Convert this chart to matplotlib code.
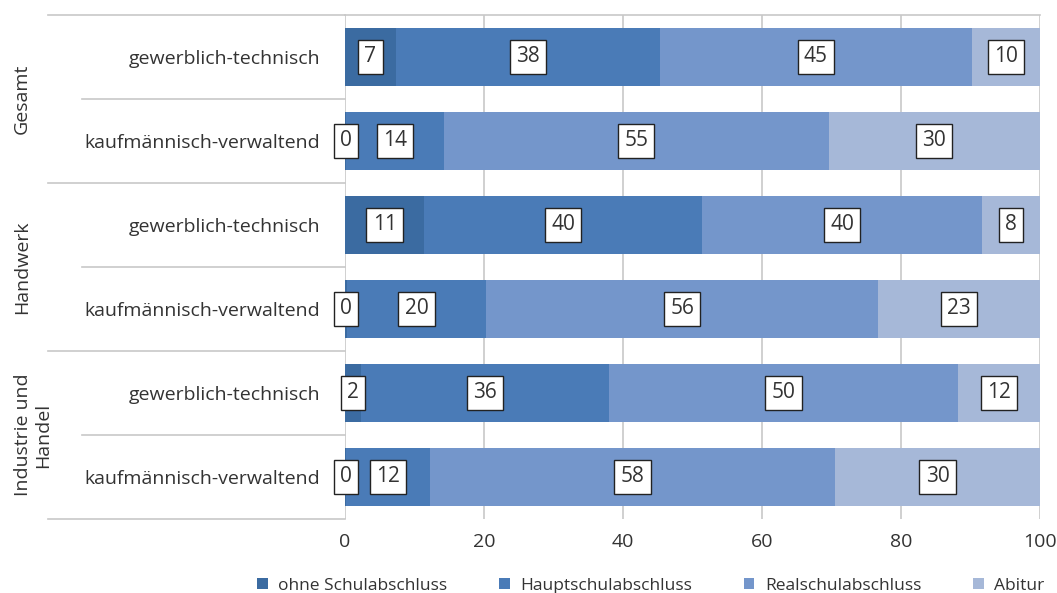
import matplotlib.pyplot as plt
from matplotlib.transforms import blended_transform_factory

plt.rcParams["font.family"] = ["Open Sans", "DejaVu Sans"]

groups = ["Gesamt", "Handwerk", "Industrie und\nHandel"]
categories = [
    "gewerblich-technisch", "kaufmännisch-verwaltend",
    "gewerblich-technisch", "kaufmännisch-verwaltend",
    "gewerblich-technisch", "kaufmännisch-verwaltend",
]
series = ["ohne Schulabschluss", "Hauptschulabschluss", "Realschulabschluss", "Abitur"]
ohne = [7.3, 0.2, 11.4, 0.3, 2.3, 0.2]
haupt = [38.0, 14.0, 40.0, 20.0, 35.7, 12.0]
real = [44.9, 55.4, 40.3, 56.4, 50.2, 58.3]
abitur = [9.8, 30.4, 8.3, 23.3, 11.8, 29.5]
colors = ["#3b6ba1", "#4a7bb7", "#7496cb", "#a6b8d8"]

W, H = 1057, 593
fig = plt.figure(figsize=(W / 100, H / 100), dpi=100)
ax = fig.add_axes([345 / W, 1 - 519 / H, 695 / W, 504 / H])

y = [i + 0.5 for i in range(len(categories))]
left = [0.0] * len(categories)
for name, vals, c in zip(series, [ohne, haupt, real, abitur], colors):
    ax.barh(y, vals, left=left, height=0.69, color=c, label=name, zorder=2)
    for yi, l, v in zip(y, left, vals):
        ax.text(l + v / 2, yi, f"{v:.0f}", ha="center", va="center", fontsize=15,
                color="#333333", zorder=4,
                bbox=dict(boxstyle="square,pad=0.3", fc="white", ec="#222222", lw=1.0))
    left = [l + v for l, v in zip(left, vals)]

ax.set_xlim(0, 100)
ax.set_ylim(len(categories), 0)
ax.set_xticks(range(0, 101, 20))
ax.tick_params(axis="x", length=0, pad=10, labelsize=14, colors="#333333")
ax.set_yticks(y)
ax.set_yticklabels(categories)
ax.tick_params(axis="y", length=0, pad=18, labelsize=14, colors="#333333")
ax.grid(axis="x", color="#c8c8c8", lw=1.2, zorder=0)
for s in ["left", "right", "bottom"]:
    ax.spines[s].set_visible(False)
ax.spines["top"].set_color("#c8c8c8")
ax.spines["top"].set_linewidth(1.2)

# group separators on the left side
tr = blended_transform_factory(ax.transAxes, ax.transData)
for k in range(len(categories) + 1):
    x0 = -0.427 if k % 2 == 0 else -0.378
    ax.plot([x0, 0], [k, k], transform=tr, color="#c8c8c8", lw=1.2, clip_on=False)

for g, name in enumerate(groups):
    xg = -0.449 if "\n" in name else -0.465
    ax.text(xg, 2 * g + 1, name, transform=tr, rotation=90, ha="center", va="center",
            fontsize=14, color="#333333", linespacing=1.15)

ax.legend(loc="center", bbox_to_anchor=(0.44, -0.132), ncol=4, frameon=False,
          fontsize=12.5, handlelength=0.6, handleheight=0.6, columnspacing=3.0,
          handletextpad=0.6, labelcolor="#333333", borderaxespad=0)

fig.savefig("out.png", dpi=100)
